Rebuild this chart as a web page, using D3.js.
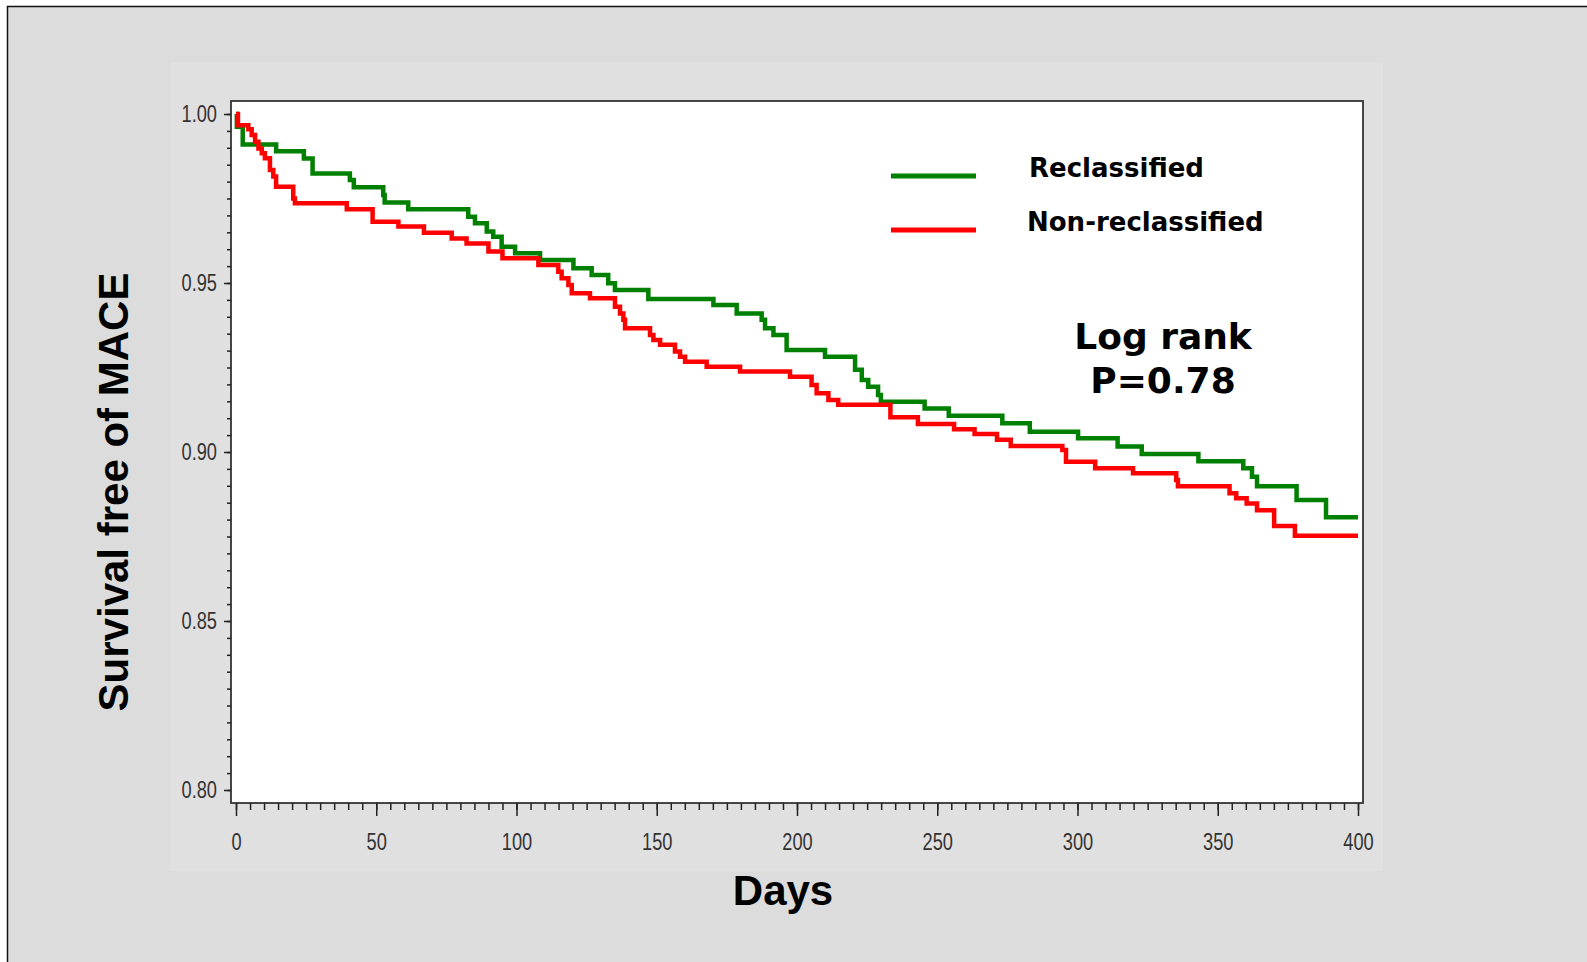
<!DOCTYPE html>
<html>
<head>
<meta charset="utf-8">
<script src="https://cdn.jsdelivr.net/npm/d3@7"></script>
<style>
  body { margin: 0; background: #fff; }
  .tick text { font-family: "Liberation Sans", Arial, sans-serif; font-size: 24px; fill: #333; }
  .tick line { stroke: #222; stroke-width: 1.5; }
</style>
</head>
<body>
<div id="chart"></div>
<script>
const svgWidth = 1587;
const svgHeight = 962;

// Kaplan-Meier steps: day of drop and survival after it
const reclassDays = [0, 0.3, 2.4, 14.3, 24.2, 27.3, 40.6, 42.0, 52.5, 53.0, 61.4, 82.8, 85.2, 89.4, 91.7, 94.7, 99.5,
  108.4, 120.3, 126.8, 132.7, 135.1, 147.0, 170.2, 178.5, 187.4, 188.6, 191.6, 196.3, 210.0, 220.7, 223.1, 225.4,
  228.9, 229.9, 245.5, 254.1, 273.2, 283.0, 300.2, 314.3, 322.9, 343.1, 359.1, 362.2, 364.0, 378.1, 388.6, 400];
const reclassSurv = [1.0, 0.9962, 0.9910, 0.9890, 0.9868, 0.9824, 0.9805, 0.9783, 0.9760, 0.9738, 0.9718, 0.9696, 0.9677, 0.9652, 0.9637, 0.9607, 0.9588,
  0.9568, 0.9544, 0.9524, 0.9499, 0.9479, 0.9453, 0.9435, 0.9410, 0.9391, 0.9366, 0.9346, 0.9302, 0.9282, 0.9243, 0.9213, 0.9193,
  0.9169, 0.9149, 0.9129, 0.9107, 0.9085, 0.9060, 0.9041, 0.9016, 0.8994, 0.8973, 0.8952, 0.8927, 0.8899, 0.8858, 0.8807, 0.8807];

const nonReclassDays = [0, 0.7, 4.4, 5.6, 6.8, 8.0, 9.2, 10.3, 12.1, 13.3, 14.3, 20.4, 21.0, 39.5, 48.7, 57.9, 67.0, 76.9, 82.2,
  90.0, 95.0, 107.8, 114.9, 116.1, 118.5, 119.7, 126.2, 135.1, 136.9, 138.1, 138.7, 147.6, 148.8, 151.2, 156.5, 158.3, 160.1,
  167.8, 179.7, 197.5, 205.2, 207.0, 211.2, 214.7, 233.3, 243.1, 256.0, 263.3, 271.3, 276.2, 294.6, 295.9, 306.3, 319.8,
  335.2, 335.8, 354.2, 356.6, 360.3, 364.0, 370.1, 377.5, 400];
const nonReclassSurv = [1.0, 0.9967, 0.9955, 0.9938, 0.9918, 0.9898, 0.9884, 0.9869, 0.9834, 0.9815, 0.9785, 0.9750, 0.9736, 0.9718, 0.9681, 0.9667, 0.9649, 0.9632, 0.9617,
  0.9593, 0.9573, 0.9553, 0.9533, 0.9514, 0.9494, 0.9470, 0.9455, 0.9430, 0.9410, 0.9391, 0.9366, 0.9346, 0.9331, 0.9317, 0.9297, 0.9282, 0.9267,
  0.9252, 0.9238, 0.9223, 0.9198, 0.9174, 0.9154, 0.9140, 0.9103, 0.9083, 0.9067, 0.9053, 0.9036, 0.9018, 0.9006, 0.8971, 0.8952, 0.8937,
  0.8917, 0.8899, 0.8878, 0.8863, 0.8848, 0.8828, 0.8781, 0.8752, 0.8752];

const seriesNames = ["Reclassified", "Non-reclassified"];
const seriesColors = ["#008000", "#ff0000"];
const xMajorTicks = [0, 50, 100, 150, 200, 250, 300, 350, 400];
const yMajorTicks = [0.80, 0.85, 0.90, 0.95, 1.00];
const logRankLines = ["Log rank", "P=0.78"];

const frame = { left: 231, right: 1363, top: 101, bottom: 803 };
const narrow = 0.76; // tick labels in the picture use a condensed face

const svg = d3.select("#chart")
  .append("svg")
  .attr("width", svgWidth)
  .attr("height", svgHeight);

// page backgrounds
svg.append("rect").attr("x", 7).attr("y", 6).attr("width", svgWidth).attr("height", svgHeight)
  .attr("fill", "#dcdcdc");
svg.append("rect").attr("x", 170).attr("y", 62).attr("width", 1213).attr("height", 809)
  .attr("fill", "#e0e0e0");
svg.append("path").attr("d", `M7.5,${svgHeight} V6.5 H${svgWidth}`)
  .attr("fill", "none").attr("stroke", "#111").attr("stroke-width", 1.5);

// plot frame
svg.append("rect")
  .attr("x", frame.left).attr("y", frame.top)
  .attr("width", frame.right - frame.left).attr("height", frame.bottom - frame.top)
  .attr("fill", "#fff").attr("stroke", "#333").attr("stroke-width", 1.8);

const x = d3.scaleLinear().domain([0, 400]).range([236, 1358]);
const y = d3.scaleLinear().domain([0.80, 1.00]).range([790, 114]);

// x axis: minor then major ticks
svg.append("g")
  .attr("transform", `translate(0, ${frame.bottom})`)
  .call(d3.axisBottom(x).tickValues(d3.range(0, 401, 5)).tickSize(7).tickFormat(""))
  .call(g => g.select(".domain").remove());
svg.append("g")
  .attr("transform", `translate(0, ${frame.bottom})`)
  .call(d3.axisBottom(x).tickValues(xMajorTicks).tickSize(13).tickPadding(17).tickFormat(d3.format("d")))
  .call(g => g.select(".domain").remove())
  .call(g => g.selectAll(".tick text").attr("transform", `scale(${narrow},1)`));

// y axis
svg.append("g")
  .attr("transform", `translate(${frame.left}, 0)`)
  .call(d3.axisLeft(y).tickValues(d3.range(0, 41).map(i => 0.80 + i * 0.005)).tickSize(4).tickFormat(""))
  .call(g => g.select(".domain").remove());
svg.append("g")
  .attr("transform", `translate(${frame.left}, 0)`)
  .call(d3.axisLeft(y).tickValues(yMajorTicks).tickSize(7).tickPadding(7).tickFormat(d3.format(".2f")))
  .call(g => g.select(".domain").remove())
  .call(g => g.selectAll(".tick text")
    .attr("x", -14 / narrow)
    .attr("transform", `scale(${narrow},1)`));

// curves
const line = d3.line()
  .x(d => x(d[0]))
  .y(d => y(d[1]))
  .curve(d3.curveStepAfter);

const curves = [
  d3.zip(reclassDays, reclassSurv),
  d3.zip(nonReclassDays, nonReclassSurv)
];

svg.selectAll(".km")
  .data(curves)
  .join("path")
  .attr("class", "km")
  .attr("d", line)
  .attr("fill", "none")
  .attr("stroke", (d, i) => seriesColors[i])
  .attr("stroke-width", 4.5);

// legend
const legend = svg.append("g");
seriesNames.forEach((name, i) => {
  const ly = 176 + i * 54;
  legend.append("line")
    .attr("x1", 891).attr("x2", 976)
    .attr("y1", ly).attr("y2", ly)
    .attr("stroke", seriesColors[i]).attr("stroke-width", 5);
  legend.append("text")
    .attr("x", 1029 - i * 2).attr("y", ly + 1)
    .style("font-family", "DejaVu Sans, Verdana, sans-serif")
    .style("font-weight", "bold")
    .style("font-size", "26px")
    .text(name);
});

// log rank annotation
svg.selectAll(".logrank")
  .data(logRankLines)
  .join("text")
  .attr("class", "logrank")
  .attr("x", 1163)
  .attr("y", (d, i) => 349 + i * 44)
  .attr("text-anchor", "middle")
  .style("font-family", "DejaVu Sans, Verdana, sans-serif")
  .style("font-weight", "bold")
  .style("font-size", "36px")
  .text(d => d);

// axis titles
svg.append("text")
  .attr("transform", "translate(128, 492) rotate(-90)")
  .attr("text-anchor", "middle")
  .style("font-family", "Liberation Sans, Arial, sans-serif")
  .style("font-weight", "bold")
  .style("font-size", "42px")
  .text("Survival free of MACE");

svg.append("text")
  .attr("x", 783)
  .attr("y", 905)
  .attr("text-anchor", "middle")
  .style("font-family", "Liberation Sans, Arial, sans-serif")
  .style("font-weight", "bold")
  .style("font-size", "42px")
  .text("Days");
</script>
</body>
</html>
